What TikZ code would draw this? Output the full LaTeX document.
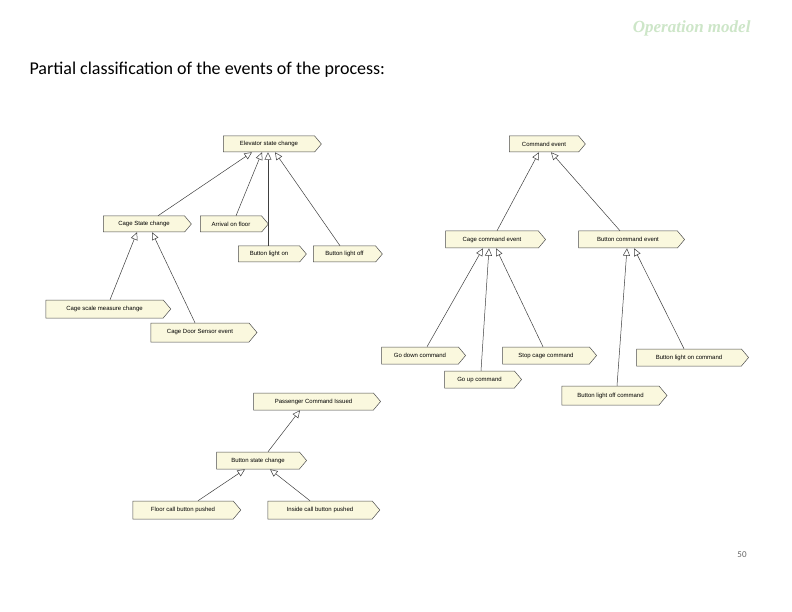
\documentclass[tikz,border=0pt]{standalone}
\usepackage{fontspec}
\setmainfont{Liberation Serif}
\newfontfamily\bodyfont{Carlito}
\newfontfamily\boxfont{Liberation Sans}
\usetikzlibrary{shapes.symbols,arrows.meta,calc}
\definecolor{cream}{RGB}{250,248,222}
\definecolor{titlegreen}{RGB}{205,230,200}
\tikzset{
 ev/.style={shape=signal, signal to=east, signal pointer angle=100, draw=black!70, line width=0.5pt, fill=cream, inner sep=1pt, font=\boxfont\fontsize{6}{7}\selectfont, anchor=center},
 gen/.style={draw=black!75, line width=0.5pt, -{Triangle[open,length=7.5pt,width=7pt]}}
}
\newcommand{\evnode}[6]{\node[ev, minimum width=#4pt, minimum height=#5pt] (#1) at (#2,#3) {#6};}
\begin{document}
\begin{tikzpicture}[x=1pt,y=-1pt]
\useasboundingbox (0,0) rectangle (792,612);
\fill[white] (0,0) rectangle (792,612);
\node[font=\bfseries\itshape\fontsize{17}{20}\selectfont, text=titlegreen, anchor=east] (title) at (754,28) {Operation model};
\node[font=\bodyfont\fontsize{18}{22}\selectfont, anchor=west] (sub) at (26,70) {Partial classification of the events of the process:};
\node[font=\bodyfont\fontsize{9}{10}\selectfont, text=black!60] (pg) at (742,555) {50};
% left tree
\evnode{elev}{269}{144}{98}{16}{Elevator state change}
\evnode{cage}{144}{224}{88}{16}{Cage State change}
\evnode{arr}{231}{224}{68}{16}{Arrival on floor}
\evnode{blon}{269}{254}{68}{16}{Button light on}
\evnode{bloff}{344.5}{254}{69}{16}{Button light off}
\evnode{scale}{104.5}{309}{125}{18}{Cage scale measure change}
\evnode{door}{200}{332.5}{106}{19}{Cage Door Sensor event}
% right tree
\evnode{cmd}{544}{144}{76}{16}{Command event}
\evnode{ccmd}{492}{239.5}{100}{17}{Cage command event}
\evnode{bcmd}{628}{239.5}{106}{17}{Button command event}
\evnode{down}{420}{355.5}{84}{17}{Go down command}
\evnode{up}{479.5}{379.5}{77}{17}{Go up command}
\evnode{stop}{546}{355.5}{94}{17}{Stop cage command}
\evnode{blonc}{689}{357.5}{112}{17}{Button light on command}
\evnode{bloffc}{610.5}{395.5}{105}{19}{Button light off command}
% bottom tree
\evnode{pass}{313.5}{401.5}{127}{17}{Passenger Command Issued}
\evnode{bst}{258}{460.5}{90}{17}{Button state change}
\evnode{floor}{183}{510}{108}{18}{Floor call button pushed}
\evnode{inside}{320}{510}{112}{18}{Inside call button pushed}
% generalisations
\draw[gen] ($(cage.north)+(14,0)$) -- ($(elev.south)+(-17,0)$);
\draw[gen] ($(arr.north)+(5,0)$) -- ($(elev.south)+(-7,0)$);
\draw[gen] ($(blon.north)+(-1,0)$) -- ($(elev.south)+(-1,0)$);
\draw[gen] ($(bloff.north)+(-4.5,0)$) -- ($(elev.south)+(6,0)$);
\draw[gen] ($(scale.north)+(5.5,0)$) -- ($(cage.south)+(-7,0)$);
\draw[gen] ($(door.north)+(-5,0)$) -- ($(cage.south)+(8,0)$);
\draw[gen] ($(ccmd.north)+(5,0)$) -- ($(cmd.south)+(-5,0)$);
\draw[gen] ($(bcmd.north)+(-8,0)$) -- ($(cmd.south)+(7,0)$);
\draw[gen] ($(down.north)+(7,0)$) -- ($(ccmd.south)+(-9,0)$);
\draw[gen] ($(up.north)+(1.5,0)$) -- ($(ccmd.south)+(-3,0)$);
\draw[gen] ($(stop.north)+(-3,0)$) -- ($(ccmd.south)+(4,0)$);
\draw[gen] ($(bloffc.north)+(6.5,0)$) -- ($(bcmd.south)+(-1,0)$);
\draw[gen] ($(blonc.north)+(-5,0)$) -- ($(bcmd.south)+(6,0)$);
\draw[gen] ($(bst.north)+(10,0)$) -- ($(pass.south)+(-13.5,0)$);
\draw[gen] ($(floor.north)+(15,0)$) -- ($(bst.south)+(-13,0)$);
\draw[gen] ($(inside.north)+(-10,0)$) -- ($(bst.south)+(12,0)$);
\end{tikzpicture}
\end{document}
